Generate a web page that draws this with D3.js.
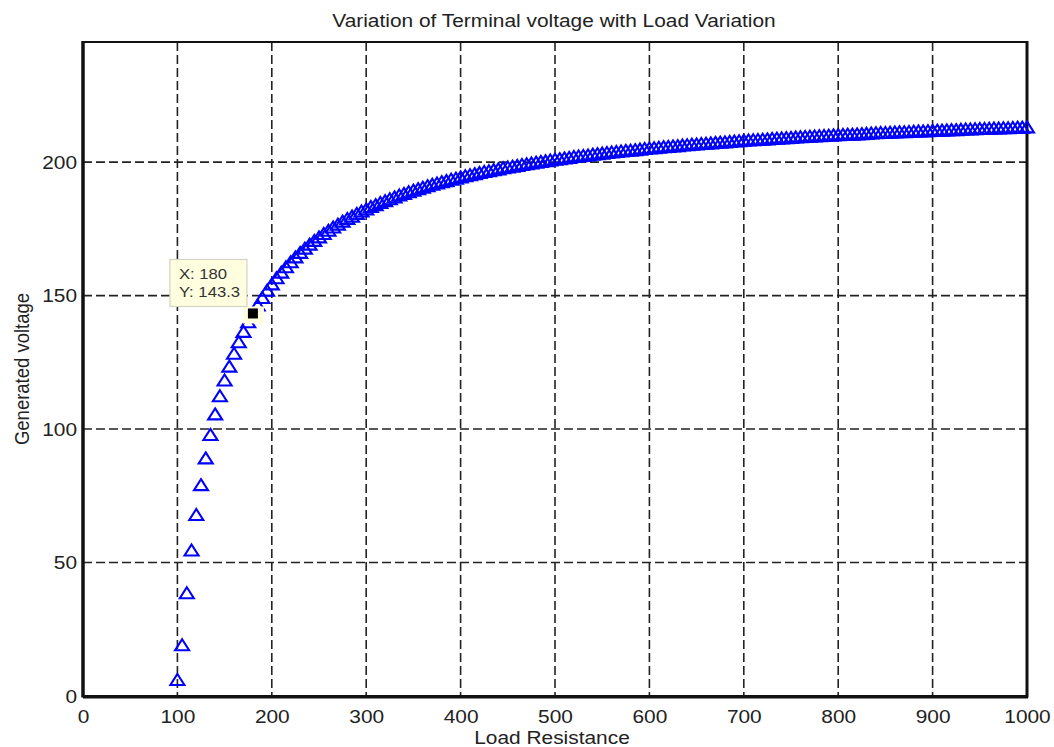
<!DOCTYPE html>
<html>
<head>
<meta charset="utf-8">
<script src="https://cdn.jsdelivr.net/npm/d3@7"></script>
<style>
  html, body { margin: 0; padding: 0; background: #fff; }
  svg { display: block; font-family: "Liberation Sans", Arial, sans-serif; }
</style>
</head>
<body>
<script>
// ---- data ----
const resistance = d3.range(100, 1001, 5); // load resistance steps (100..1000 by 5)
const voltage = [
  6.0, 19.0, 38.5, 54.5, 67.8, 79.0, 89.0, 97.8, 105.5, 112.3,
  118.2, 123.4, 128.2, 132.5, 136.4, 140.0, 143.3, 146.3, 149.1, 151.8,
  154.2, 156.5, 158.6, 160.6, 162.5, 164.3, 166.0, 167.6, 169.1, 170.5,
  171.8, 173.1, 174.3, 175.5, 176.6, 177.7, 178.7, 179.6, 180.6, 181.5,
  182.3, 183.2, 183.9, 184.7, 185.4, 186.1, 186.8, 187.5, 188.1, 188.7,
  189.3, 189.9, 190.4, 191.0, 191.5, 192.0, 192.5, 192.9, 193.4, 193.8,
  194.3, 194.7, 195.1, 195.5, 195.9, 196.3, 196.6, 197.0, 197.3, 197.7,
  198.0, 198.3, 198.6, 198.9, 199.2, 199.5, 199.8, 200.1, 200.3, 200.6,
  200.9, 201.1, 201.4, 201.6, 201.9, 202.1, 202.3, 202.5, 202.8, 203.0,
  203.2, 203.4, 203.6, 203.8, 204.0, 204.2, 204.3, 204.5, 204.7, 204.9,
  205.1, 205.2, 205.4, 205.6, 205.7, 205.9, 206.0, 206.2, 206.3, 206.5,
  206.6, 206.8, 206.9, 207.0, 207.2, 207.3, 207.4, 207.6, 207.7, 207.8,
  208.0, 208.1, 208.2, 208.3, 208.4, 208.5, 208.7, 208.8, 208.9, 209.0,
  209.1, 209.2, 209.3, 209.4, 209.5, 209.6, 209.7, 209.8, 209.9, 210.0,
  210.1, 210.2, 210.3, 210.3, 210.4, 210.5, 210.6, 210.7, 210.8, 210.9,
  210.9, 211.0, 211.1, 211.2, 211.2, 211.3, 211.4, 211.5, 211.5, 211.6,
  211.7, 211.8, 211.8, 211.9, 212.0, 212.0, 212.1, 212.2, 212.2, 212.3,
  212.4, 212.4, 212.5, 212.6, 212.6, 212.7, 212.7, 212.8, 212.9, 212.9,
  213.0
];
const xTicks = [0, 100, 200, 300, 400, 500, 600, 700, 800, 900, 1000];
const yTicks = [0, 50, 100, 150, 200];
const xDomain = [0, 1000];
const yDomain = [0, 245];
const tipX = 180, tipY = 143.3;
const titleText = "Variation of Terminal voltage with Load Variation";
const xLabel = "Load Resistance";
const yLabel = "Generated voltage";

// ---- layout ----
const W = 1054, H = 747;
const L = 83, R = 1027, T = 42, B = 696;
const SX = 1.13;              // horizontal stretch seen in the reference text
const FS = 18.5;
const TXT = "#222";

const svg = d3.select("body").append("svg").attr("width", W).attr("height", H);
const x = d3.scaleLinear().domain(xDomain).range([L, R]);
const y = d3.scaleLinear().domain(yDomain).range([B, T]);

// grid
const grid = svg.append("g").attr("stroke", "#222").attr("stroke-width", 1.6)
  .attr("stroke-dasharray", "9,4");
grid.selectAll("line.v").data(xTicks.filter(d => d > 0 && d < 1000)).join("line")
  .attr("class", "v")
  .attr("x1", d => x(d)).attr("x2", d => x(d)).attr("y1", T).attr("y2", B);
grid.selectAll("line.h").data(yTicks.filter(d => d > 0)).join("line")
  .attr("class", "h")
  .attr("x1", L).attr("x2", R).attr("y1", d => y(d)).attr("y2", d => y(d));

// axes with labels
const xAxis = d3.axisBottom(x).tickValues(xTicks).tickFormat(d3.format("d"))
  .tickSize(0).tickPadding(0);
const gx = svg.append("g").attr("transform", `translate(0,${B})`).call(xAxis);
gx.select(".domain").remove();
gx.selectAll("text").attr("font-size", FS).attr("fill", TXT)
  .attr("font-family", "Liberation Sans, Arial, sans-serif")
  .attr("dy", null).attr("y", 27)
  .attr("transform", `scale(${SX},1)`);

const yAxis = d3.axisLeft(y).tickValues(yTicks).tickFormat(d3.format("d"))
  .tickSize(0).tickPadding(0);
const gy = svg.append("g").attr("transform", `translate(${L},0)`).call(yAxis);
gy.select(".domain").remove();
gy.selectAll("text").attr("font-size", FS).attr("fill", TXT)
  .attr("font-family", "Liberation Sans, Arial, sans-serif")
  .attr("x", -6 / SX).attr("dy", "0.34em")
  .attr("transform", `scale(${SX},1)`);

// frame
svg.append("rect").attr("x", L).attr("y", T).attr("width", R - L).attr("height", B - T)
  .attr("fill", "none").attr("stroke", "#111").attr("stroke-width", 2);
svg.append("line").attr("x1", L).attr("x2", L).attr("y1", T - 1).attr("y2", B + 1.5)
  .attr("stroke", "#111").attr("stroke-width", 3.5);
svg.append("line").attr("x1", L).attr("x2", R + 1).attr("y1", B + 1).attr("y2", B + 1)
  .attr("stroke", "#111").attr("stroke-width", 3);
svg.append("line").attr("x1", R).attr("x2", R).attr("y1", T - 1).attr("y2", B + 1.5)
  .attr("stroke", "#111").attr("stroke-width", 3);

// markers
const pts = resistance.map((r, i) => ({ r, v: voltage[i] }));
svg.append("g").selectAll("path").data(pts).join("path")
  .attr("transform", d => `translate(${x(d.r)},${y(d.v)})`)
  .attr("d", "M0,-6L7,5L-7,5Z")
  .attr("fill", "none").attr("stroke", "#0000ff").attr("stroke-width", 2.1)
  .attr("stroke-linejoin", "miter");

// datatip
const px = x(tipX), py = y(tipY);
svg.append("rect").attr("x", px - 10).attr("y", py - 7).attr("width", 21).attr("height", 17)
  .attr("fill", "#ffffe0");
svg.append("rect").attr("x", px - 5).attr("y", py - 5).attr("width", 10).attr("height", 10)
  .attr("fill", "#000");
const box = svg.append("g").attr("transform", `translate(${px - 83},${py - 54})`);
box.append("rect").attr("x", 0).attr("y", 0).attr("width", 77).attr("height", 47)
  .attr("fill", "#ffffe0").attr("stroke", "#d4d4c4").attr("stroke-width", 1.2);
box.append("text").attr("transform", `translate(9,20) scale(1.15,1)`)
  .attr("font-size", 14.5).attr("fill", "#333").text(`X: ${tipX}`);
box.append("text").attr("transform", `translate(9,38) scale(1.15,1)`)
  .attr("font-size", 14.5).attr("fill", "#333").text(`Y: ${tipY}`);

// titles
svg.append("text").attr("transform", `translate(${(L + R) / 2 - 1},27) scale(${SX},1)`)
  .attr("text-anchor", "middle").attr("font-size", FS).attr("fill", TXT).text(titleText);
svg.append("text").attr("transform", `translate(${(L + R) / 2 - 3},744) scale(${SX},1)`)
  .attr("text-anchor", "middle").attr("font-size", FS).attr("fill", TXT).text(xLabel);
svg.append("text").attr("transform", `translate(29,${(T + B) / 2}) rotate(-90) scale(1,${SX})`)
  .attr("text-anchor", "middle").attr("font-size", FS).attr("fill", TXT).text(yLabel);
</script>
</body>
</html>
